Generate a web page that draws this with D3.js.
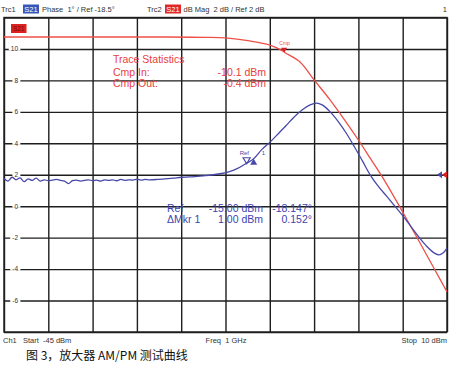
<!DOCTYPE html>
<html><head><meta charset="utf-8">
<script src="https://cdn.jsdelivr.net/npm/d3@7/dist/d3.min.js"></script>
<style>
html,body{margin:0;padding:0;background:#fff;}
svg{display:block;font-family:"Liberation Sans",Arial,sans-serif;}
</style></head>
<body><svg id="c" width="450" height="367"></svg>
<script>
// ---- data ----
const xStart = -45, xStop = 10;            // dBm sweep
const redRange = [-8, 12];                 // dB Mag, 2 dB/div, ref 2 dB
const blueRange = [-23.5, -13.5];          // Phase, 1 deg/div, ref -18.5
const yTickLabels = [-6, -4, -2, 0, 2, 4, 6, 8, 10];

const redPower = [-45,-35,-25,-20,-17.5,-14.5,-12,-10.4,-10.1,-8.25,-6.5,-4.5,-2.7,-1,0.44,2.06,4.5,7.27,10];
const redGain  = [10.76,10.76,10.76,10.74,10.70,10.51,10.25,9.88,9.76,9.17,8.03,6.75,5.48,4.21,3.07,1.79,-0.37,-2.91,-5.45];

const bluePower = [-45,-44.5,-44,-43.5,-43,-42.5,-42,-41.5,-41,-40.5,-40,-39.5,-39,-38.5,-38,-37.5,-37,-36.5,-36,-35.5,-35,-34.5,-34,-33.5,-33,-32.5,-32,-31.5,-31,-30.5,-30,-29.5,-29,-28.5,-28,-27.5,-27,
  -26,-25,-24,-23,-22,-21,-20,-19,-18,-17,-16,-15,-14,-13,-12,-11,-10,-9,-8,-7,-6.2,-5.5,-4.5,-3.5,-2.5,-1.5,-0.5,0.5,1.5,2.5,3.5,4.5,5.5,6.5,7.5,8.5,9,9.5,10];
const bluePhase = [-18.62,-18.70,-18.58,-18.66,-18.60,-18.72,-18.63,-18.68,-18.61,-18.70,-18.66,-18.69,-18.67,-18.65,-18.68,-18.70,-18.78,-18.69,-18.67,-18.70,-18.68,-18.66,-18.69,-18.67,-18.70,-18.66,-18.68,-18.66,-18.69,-18.65,-18.68,-18.66,-18.67,-18.64,-18.67,-18.65,-18.66,
  -18.65,-18.63,-18.61,-18.58,-18.57,-18.55,-18.53,-18.50,-18.46,-18.40,-18.30,-18.15,-17.99,-17.70,-17.47,-17.21,-16.94,-16.67,-16.44,-16.28,-16.22,-16.28,-16.50,-16.81,-17.18,-17.61,-18.06,-18.52,-18.88,-19.18,-19.49,-19.80,-20.14,-20.48,-20.78,-21.00,-21.05,-20.99,-20.83];

const statLabels = ["Cmp In:", "Cmp Out:"];
const statValues = ["-10.1 dBm", "-0.4 dBm"];
const mkrRows = ["Ref", "\u0394Mkr 1"];
const mkrStim = ["-15.00 dBm", "1.00 dBm"];
const mkrResp = ["-18.147\u00b0", "0.152\u00b0"];
const refMarkerPower = -15, deltaMarkerPower = -14, cmpPower = -10.1;

// ---- layout ----
const L = 4, R = 447, T = 17.5, B = 332;
const svg = d3.select("#c");
const x = d3.scaleLinear().domain([xStart, xStop]).range([L, R]);
const yRed = d3.scaleLinear().domain(redRange).range([B, T]);
const yBlue = d3.scaleLinear().domain(blueRange).range([B, T]);
const redC = "#ee5048", blueC = "#4848aa", gridC = "#1e1e1e";

const xTicks = d3.range(0, 11).map(i => xStart + i * (xStop - xStart) / 10);
const yTicks = d3.range(redRange[0], redRange[1] + 0.01, 2);

// grid via axes
const gx = svg.append("g").attr("transform", `translate(0,${B})`)
  .call(d3.axisBottom(x).tickValues(xTicks).tickSize(-(B - T)).tickFormat(""));
const gy = svg.append("g").attr("transform", `translate(${L},0)`)
  .call(d3.axisLeft(yRed).tickValues(yTicks).tickSize(-(R - L)).tickFormat(""));
[gx, gy].forEach(g => { g.select(".domain").remove(); g.selectAll("text").remove(); g.selectAll("line").attr("stroke", gridC).attr("stroke-width", 1.4); });
svg.append("rect").attr("x", L).attr("y", T).attr("width", R - L).attr("height", B - T)
  .attr("fill", "none").attr("stroke", gridC).attr("stroke-width", 1.4);

// y labels on grid lines
const lab = svg.append("g");
yTickLabels.forEach(v => {
  const bg = lab.append("rect").attr("fill", "#fff");
  const t = lab.append("text").attr("x", 18).attr("y", yRed(v) + 2.3).attr("text-anchor", "end")
    .attr("font-size", 6.5).attr("fill", "#333").text(v);
  const bb = t.node().getBBox();
  bg.attr("x", bb.x - 2).attr("y", yRed(v) - 1.5).attr("width", bb.width + 4).attr("height", 3);
});

// traces
const redLine = d3.line().x(d => x(d[0])).y(d => yRed(d[1])).curve(d3.curveCatmullRom);
const blueLine = d3.line().x(d => x(d[0])).y(d => yBlue(d[1])).curve(d3.curveCatmullRom);
svg.append("path").attr("d", redLine(d3.zip(redPower, redGain))).attr("fill", "none").attr("stroke", redC).attr("stroke-width", 1.3);
svg.append("path").attr("d", blueLine(d3.zip(bluePower, bluePhase))).attr("fill", "none").attr("stroke", blueC).attr("stroke-width", 1.3);

// reference arrows at right
const refY = yRed(2);
svg.append("path").attr("d", `M${R-10},${refY} l5,-3.5 v7 z`).attr("fill", blueC);
svg.append("path").attr("d", `M${R-5},${refY} l5,-3.5 v7 z`).attr("fill", "#e02020");

// S21 red tag inside
svg.append("rect").attr("x", 11).attr("y", 24).attr("width", 15.5).attr("height", 9).attr("fill", "#dd2222");
svg.append("text").attr("x", 18.7).attr("y", 31).attr("text-anchor", "middle").attr("font-size", 6.5).attr("fill", "#7a0a0a").text("S21");

// Cmp marker
const cmpY = yRed(redGain[redPower.indexOf(cmpPower)]);
svg.append("path").attr("d", `M${x(cmpPower)-1},${cmpY} l-3,-5 h6 z`).attr("fill", "#e02020");
svg.append("text").attr("x", x(cmpPower) - 0.5).attr("y", cmpY - 7.5).attr("text-anchor", "middle").attr("font-size", 5).attr("fill", redC).text("Cmp");

// Ref / delta markers on blue trace
const phaseAt = p => bluePhase[bluePower.indexOf(p)];
const rx = x(refMarkerPower), ry = yBlue(phaseAt(refMarkerPower));
svg.append("path").attr("d", `M${rx+1},${ry} l-3.5,-6 h7 z`).attr("fill", "none").attr("stroke", blueC).attr("stroke-width", 1.2);
const dx = x(deltaMarkerPower), dy = yBlue(phaseAt(deltaMarkerPower));
svg.append("path").attr("d", `M${dx},${dy} l3.5,6 h-7 z`).attr("fill", blueC);
svg.append("text").attr("x", rx - 6).attr("y", ry - 9).attr("font-size", 6).attr("fill", blueC).text("Ref");
svg.append("text").attr("x", dx + 8).attr("y", dy - 4).attr("font-size", 6).attr("fill", blueC).text("1");

// Trace statistics
svg.append("text").attr("x", 113).attr("y", 63).attr("font-size", 10.5).attr("fill", "#e84040").text("Trace Statistics");
statLabels.forEach((s, i) => {
  svg.append("text").attr("x", 113).attr("y", 76 + i * 11).attr("font-size", 10.5).attr("fill", "#e84040").text(s);
  svg.append("text").attr("x", 266).attr("y", 76 + i * 11).attr("text-anchor", "end").attr("font-size", 10.5).attr("fill", "#e84040").text(statValues[i]);
});

// Marker table
mkrRows.forEach((s, i) => {
  const yy = 212 + i * 11;
  svg.append("text").attr("x", 167).attr("y", yy).attr("font-size", 10.5).attr("fill", "#3c44b0").text(s);
  svg.append("text").attr("x", 263).attr("y", yy).attr("text-anchor", "end").attr("font-size", 10.5).attr("fill", "#3c44b0").text(mkrStim[i]);
  svg.append("text").attr("x", 312).attr("y", yy).attr("text-anchor", "end").attr("font-size", 10.5).attr("fill", "#3c44b0").text(mkrResp[i]);
});

// Header
const hdr = svg.append("g").attr("font-size", 7.5).attr("fill", "#333");
hdr.append("text").attr("x", 1).attr("y", 11.5).text("Trc1");
svg.append("rect").attr("x", 23).attr("y", 4.5).attr("width", 16).attr("height", 9).attr("fill", "#3456b8");
svg.append("text").attr("x", 31).attr("y", 11.5).attr("text-anchor", "middle").attr("font-size", 7.5).attr("fill", "#fff").text("S21");
hdr.append("text").attr("x", 42).attr("y", 11.5).attr("xml:space", "preserve").text("Phase  1\u00b0 / Ref -18.5\u00b0");
hdr.append("text").attr("x", 147).attr("y", 11.5).text("Trc2");
svg.append("rect").attr("x", 165).attr("y", 4.5).attr("width", 16).attr("height", 9).attr("fill", "#e02828");
svg.append("text").attr("x", 173).attr("y", 11.5).attr("text-anchor", "middle").attr("font-size", 7.5).attr("fill", "#fff").text("S21");
hdr.append("text").attr("x", 183.5).attr("y", 11.5).attr("xml:space", "preserve").text("dB Mag  2 dB / Ref 2 dB");
hdr.append("text").attr("x", 447).attr("y", 11.5).attr("text-anchor", "end").text("1");

// Footer
const ftr = svg.append("g").attr("font-size", 7.5).attr("fill", "#333");
ftr.append("text").attr("x", 3).attr("y", 343).text("Ch1");
ftr.append("text").attr("x", 23).attr("y", 343).attr("xml:space", "preserve").text("Start  -45 dBm");
ftr.append("text").attr("x", 226).attr("y", 343).attr("text-anchor", "middle").attr("xml:space", "preserve").text("Freq  1 GHz");
ftr.append("text").attr("x", 447).attr("y", 343).attr("text-anchor", "end").attr("xml:space", "preserve").text("Stop  10 dBm");

// Caption
svg.append("text").attr("x", 26).attr("y", 360).attr("font-size", 12)
  .attr("font-family", "'Noto Sans CJK SC',sans-serif").attr("fill", "#111")
  .text("图 3，放大器 AM/PM 测试曲线");
</script></body></html>
